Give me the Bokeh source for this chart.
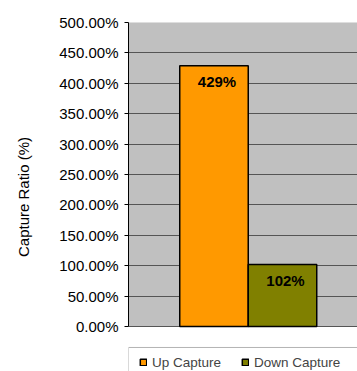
from bokeh.plotting import figure
from bokeh.models import (ColumnDataSource, Range1d, FixedTicker, NumeralTickFormatter,
                          LabelSet, Legend, LegendItem, BoxAnnotation)
from bokeh.core.properties import value
from bokeh.embed import file_html
from bokeh.resources import INLINE

# data
series = ["Up Capture", "Down Capture"]
ratios = [4.29, 1.02]
colors = ["#FF9900", "#808000"]
y_ticks = [0.0, 0.5, 1.0, 1.5, 2.0, 2.5, 3.0, 3.5, 4.0, 4.5, 5.0]
y_title = "Capture Ratio (%)"

FONT = "Liberation Sans"

src = ColumnDataSource(dict(
    x=list(range(len(series))),
    top=ratios,
    color=colors,
    name=series,
    lbl=[f"{round(v * 100)}%" for v in ratios],
))

p = figure(width=357, height=371, output_backend="svg", toolbar_location=None,
           x_range=Range1d(-1.248, 2.095), y_range=Range1d(-0.740, 5),
           min_border_left=128, min_border_right=0, min_border_top=22,
           min_border_bottom=0)
p.title.visible = False
p.background_fill_color = "white"
p.border_fill_color = "white"
p.outline_line_color = None

# plot area (gray) covering the value range only
plot_area = BoxAnnotation(bottom=0, top=5, fill_color="#C0C0C0", fill_alpha=1,
                          line_color="#808080", line_width=1, level="image")
p.add_layout(plot_area)

p.xaxis.visible = False
p.xgrid.visible = False
p.ygrid.grid_line_color = "#555555"
p.ygrid.grid_line_width = 1

ya = p.yaxis[0]
ya.ticker = FixedTicker(ticks=y_ticks)
ya.formatter = NumeralTickFormatter(format="0.00%")
ya.bounds = (0, 5)
ya.axis_line_color = "black"
ya.major_tick_line_color = "black"
ya.major_tick_out = 4
ya.major_tick_in = 0
ya.minor_tick_line_color = None
ya.major_label_standoff = 6
ya.major_label_text_font = FONT
ya.major_label_text_font_size = "15px"
ya.major_label_text_color = "black"
ya.axis_label = y_title
ya.axis_label_text_font = FONT
ya.axis_label_text_font_size = "15px"
ya.axis_label_text_font_style = "normal"
ya.axis_label_text_color = "black"
ya.axis_label_standoff = 24

bars = p.vbar(x="x", top="top", width=1.0, bottom=0, source=src,
              fill_color="color", line_color="black", line_width=1.5)

labels = LabelSet(x="x", y="top", text="lbl", source=src, x_offset=3, y_offset=-16,
                  text_align="center", text_baseline="middle",
                  text_font=value(FONT), text_font_size="15px", text_font_style="bold",
                  text_color="black")
p.add_layout(labels)

# legend frame
legend_box = BoxAnnotation(top=-0.345, bottom=-2, right=10, fill_alpha=0,
                           line_color="black", line_width=1)
p.add_layout(legend_box)

legend = Legend(items=[LegendItem(label=series[i], renderers=[bars], index=i)
                       for i in range(len(series))],
                orientation="horizontal", location=(11, 0),
                padding=0, spacing=20, label_standoff=5,
                glyph_width=8, glyph_height=8, label_height=18,
                label_text_font=FONT, label_text_font_size="13.5px",
                border_line_color=None, background_fill_alpha=0)
p.add_layout(legend, "center")

open("out.html", "w").write(file_html(p, INLINE))
